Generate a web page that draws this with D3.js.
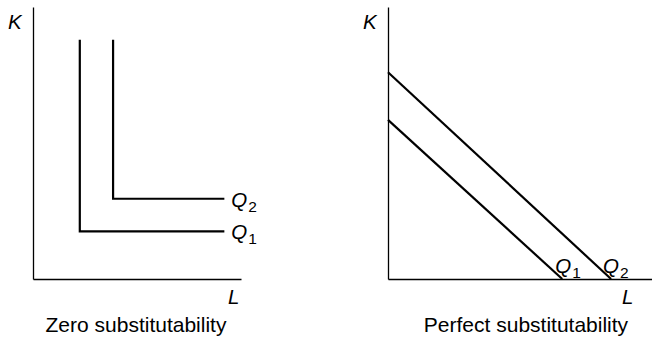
<!DOCTYPE html>
<html>
<head>
<meta charset="utf-8">
<script src="https://cdn.jsdelivr.net/npm/d3@7"></script>
<style>
  body { margin: 0; background: #fff; }
  svg { display: block; font-family: "Liberation Sans", Arial, sans-serif; }
</style>
</head>
<body>
<svg width="652" height="342"></svg>
<script>
// isoquants, values in input units (L, K)
var zeroQ1 = [[2.25, 8.8], [2.25, 1.75], [9.2, 1.75]];
var zeroQ2 = [[3.85, 8.8], [3.85, 2.95], [9.2, 2.95]];
var perfQ1 = [[0, 5.85], [6.6, 0]];
var perfQ2 = [[0, 7.6], [8.45, 0]];
var curveNames = ["Q1", "Q2"];
var panelTitles = ["Zero substitutability", "Perfect substitutability"];

var svg = d3.select("svg");

var panels = [
  { x0: 33, x1: 241, curves: [zeroQ1, zeroQ2], title: panelTitles[0], titleX: 136,
    labels: [[9.2, 1.75, 7, 8], [9.2, 2.95, 7, 8]] },
  { x0: 388, x1: 652, curves: [perfQ1, perfQ2], title: panelTitles[1], titleX: 526,
    labels: [[6.6, 0, -7, -6], [8.45, 0, -8, -6]] }
];

panels.forEach(function(p, pi) {
  var x = d3.scaleLinear().domain([0, 10]).range([p.x0, p.x1]);
  var y = d3.scaleLinear().domain([0, 10]).range([279, 7]);
  var g = svg.append("g");

  g.append("g")
    .attr("transform", "translate(0,279)")
    .call(d3.axisBottom(x).ticks(0).tickSizeOuter(0));
  g.append("g")
    .attr("transform", "translate(" + p.x0 + ",0)")
    .call(d3.axisLeft(y).ticks(0).tickSizeOuter(0));
  g.selectAll(".domain").attr("stroke", "#000").attr("stroke-width", 1.3);

  var line = d3.line().x(function(d) { return x(d[0]); }).y(function(d) { return y(d[1]); });
  g.selectAll("path.curve")
    .data(p.curves)
    .enter()
    .append("path")
    .attr("class", "curve")
    .attr("d", line)
    .attr("fill", "none")
    .attr("stroke", "#000")
    .attr("stroke-width", 2.2);

  // Q labels
  p.labels.forEach(function(l, i) {
    var t = g.append("text")
      .attr("x", x(l[0]) + l[2])
      .attr("y", y(l[1]) + l[3])
      .attr("font-size", 20.5)
      .attr("font-style", "italic");
    t.append("tspan").text("Q");
    t.append("tspan").attr("font-style", "normal").attr("font-size", 15.5)
      .attr("dx", 1).attr("dy", 5).text(curveNames[i].slice(1));
  });

  // axis letters
  g.append("text").attr("x", p.x0 - 25).attr("y", 29)
    .attr("font-size", 20.5).attr("font-style", "italic").text("K");
  g.append("text").attr("x", pi === 0 ? 228 : 622).attr("y", 304)
    .attr("font-size", 20.5).attr("font-style", "italic").text("L");

  g.append("text").attr("x", p.titleX).attr("y", 332)
    .attr("text-anchor", "middle").attr("font-size", 21).text(p.title);
});
</script>
</body>
</html>
